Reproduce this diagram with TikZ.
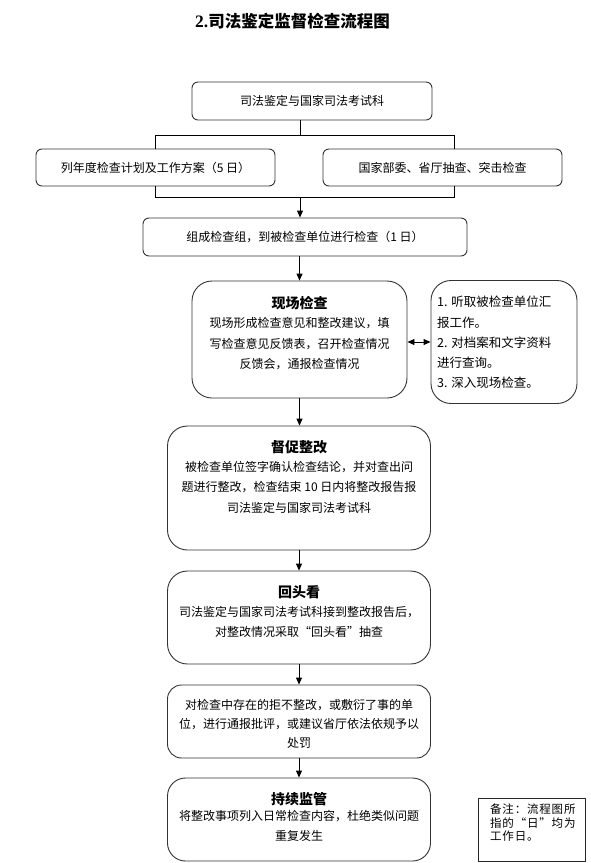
\documentclass[tikz,border=0pt]{standalone}
\usepackage{fontspec}
\setmainfont{Noto Sans CJK SC}
\newfontfamily\latinbf{Liberation Serif}
\newfontfamily\notefont{Noto Sans CJK SC}[LetterSpace=7]
\usetikzlibrary{arrows.meta}
\begin{document}
\begin{tikzpicture}[x=1pt,y=-1pt,
  sbox/.style={draw=black!80, line width=0.9pt, rounded corners=6pt, inner sep=0pt,
    font=\fontsize{12}{20}\selectfont},
  bbox/.style={draw=black!80, line width=0.9pt, rounded corners=20pt, inner sep=0pt},
  nbox/.style={draw=black!85, line width=0.8pt, inner sep=0pt},
  ttl/.style={inner sep=0pt, font=\fontsize{14}{16}\selectfont\bfseries},
  txt/.style={inner sep=0pt, align=center, font=\fontsize{12}{20.5}\selectfont},
  conn/.style={line width=0.9pt, black},
  arr/.style={conn, -{Triangle[length=7pt,width=6pt]}},
  darr/.style={conn, {Triangle[length=7pt,width=6pt]}-{Triangle[length=7pt,width=6pt]}}]
\useasboundingbox (0,0) rectangle (590,863);
\fill[white] (0,0) rectangle (590,863);

\node[inner sep=0pt, font=\fontsize{16.5}{18}\selectfont\bfseries] (title) at (292.5,21)
  {{\latinbf\fontsize{17.5}{18}\selectfont\bfseries 2.}司法鉴定监督检查流程图};

\node[sbox, minimum width=240pt, minimum height=38pt] (top) at (312,101) {司法鉴定与国家司法考试科};
\node[sbox, minimum width=239pt, minimum height=37pt] (plan) at (155.5,167.5) {列年度检查计划及工作方案（5 日）};
\node[sbox, minimum width=239pt, minimum height=37pt] (spot) at (442.5,167.5) {国家部委、省厅抽查、突击检查};
\node[sbox, minimum width=324pt, minimum height=38pt] (group) at (305,237) {组成检查组，到被检查单位进行检查（1 日）};

\node[bbox, minimum width=215pt, minimum height=117pt] (site) at (299.5,339.5) {};
\node[ttl] (siteT) at (299.5,303) {现场检查};
\node[txt] (siteB) at (299.5,344) {现场形成检查意见和整改建议，填\\写检查意见反馈表，召开检查情况\\反馈会，通报检查情况};

\node[bbox, minimum width=146pt, minimum height=123pt] (info) at (504,342) {};
\node[txt, align=left, anchor=west, font=\fontsize{12.5}{20.25}\selectfont] (infoB) at (437,342.5)
  {1. 听取被检查单位汇\\报工作。\\2. 对档案和文字资料\\进行查询。\\3. 深入现场检查。};

\node[bbox, minimum width=263pt, minimum height=124pt] (urge) at (299,488) {};
\node[ttl] (urgeT) at (299,447) {督促整改};
\node[txt] (urgeB) at (299,487) {被检查单位签字确认检查结论，并对查出问\\题进行整改，检查结束 10 日内将整改报告报\\司法鉴定与国家司法考试科};

\node[bbox, minimum width=263pt, minimum height=93pt] (look) at (299,617.5) {};
\node[ttl] (lookT) at (299,592) {回头看};
\node[txt] (lookB) at (299,622) {司法鉴定与国家司法考试科接到整改报告后，\\对整改情况采取“回头看”抽查};

\node[bbox, rounded corners=14pt, minimum width=263pt, minimum height=73pt] (pun) at (299,721.5) {};
\node[txt, font=\fontsize{12}{19}\selectfont] (punB) at (299,724) {对检查中存在的拒不整改，或敷衍了事的单\\位，进行通报批评，或建议省厅依法依规予以\\处罚};

\node[bbox, rounded corners=18pt, minimum width=263pt, minimum height=83pt] (keep) at (299,819.5) {};
\node[ttl] (keepT) at (299,799) {持续监管};
\node[txt] (keepB) at (299,826) {将整改事项列入日常检查内容，杜绝类似问题\\重复发生};

\node[nbox, minimum width=107pt, minimum height=63pt] (note) at (531.5,830) {};
\node[txt, align=left, anchor=north west, font=\notefont\fontsize{11.5}{13.5}\selectfont] (noteB) at (490,804)
  {备注：流程图所\\指的“日”均为\\工作日。};

% connectors
\coordinate (jt) at (300,135);
\coordinate (rt) at (454,135);
\coordinate (jb) at (300,197);
\coordinate (rb) at (454,197);
\draw[conn] (top.south -| jt) -- (jt);
\draw[conn] (plan.north) |- (rt) -- (rt |- spot.north);
\draw[conn] (plan.south) |- (rb) -- (rb |- spot.south);
\draw[arr] (jb) -- (jb |- group.north);
\draw[arr] (site.north |- group.south) -- (site.north);
\draw[darr] (site.east |- info.west) -- (info.west);
\draw[arr] (site.south) -- (site.south |- urge.north);
\draw[arr] (urge.south) -- (look.north);
\draw[arr] (look.south) -- (pun.north);
\draw[arr] (pun.south) -- (keep.north);
\end{tikzpicture}
\end{document}
